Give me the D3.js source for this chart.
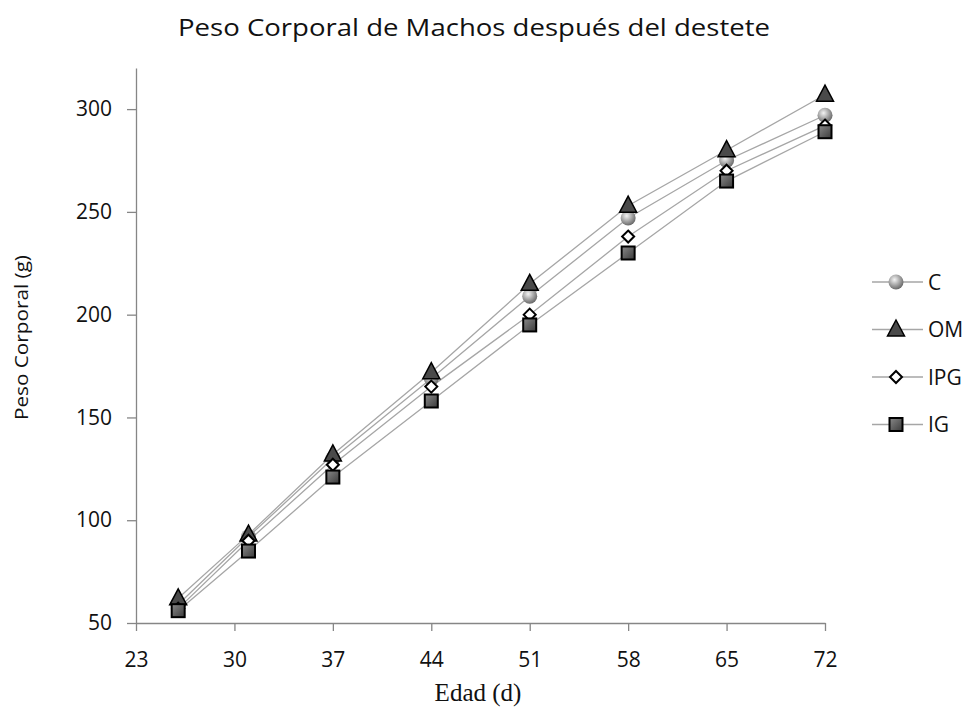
<!DOCTYPE html>
<html>
<head>
<meta charset="utf-8">
<script src="https://cdn.jsdelivr.net/npm/d3@7"></script>
<style>
  body { margin: 0; background: #fff; }
  svg { display: block; }
</style>
</head>
<body>
<div id="chart"></div>
<script>
// ages (days) and body weight (g) per group
const edad = [26, 31, 37, 44, 51, 58, 65, 72];
const serieC   = [59, 92, 130, 169, 209, 247, 275, 297];
const serieOM  = [62, 93, 132, 172, 215, 253, 280, 307];
const serieIPG = [57, 90, 127, 165, 200, 238, 270, 292];
const serieIG  = [56, 85, 121, 158, 195, 230, 265, 289];
const xTicks = [23, 30, 37, 44, 51, 58, 65, 72];
const yTicks = [50, 100, 150, 200, 250, 300];
const nombres = ['C', 'OM', 'IPG', 'IG'];

const series = [
  { name: 'C', values: serieC, marker: 'circle' },
  { name: 'OM', values: serieOM, marker: 'triangle' },
  { name: 'IPG', values: serieIPG, marker: 'diamond' },
  { name: 'IG', values: serieIG, marker: 'square' }
];

const width = 969, height = 710;
const margin = { top: 68, right: 144, bottom: 87, left: 136 };
const font = 'Open Sans, sans-serif';

const svg = d3.select('#chart').append('svg')
  .attr('width', width)
  .attr('height', height);

const defs = svg.append('defs');
const ball = defs.append('radialGradient').attr('id', 'ball')
  .attr('cx', '40%').attr('cy', '35%').attr('r', '65%');
ball.append('stop').attr('offset', '0%').attr('stop-color', '#f4f4f4');
ball.append('stop').attr('offset', '60%').attr('stop-color', '#a0a0a0');
ball.append('stop').attr('offset', '100%').attr('stop-color', '#6a6a6a');

const sq = defs.append('linearGradient').attr('id', 'sq')
  .attr('x1', '0%').attr('y1', '0%').attr('x2', '100%').attr('y2', '100%');
sq.append('stop').attr('offset', '0%').attr('stop-color', '#8a8a8a');
sq.append('stop').attr('offset', '100%').attr('stop-color', '#3a3a3a');

const x = d3.scaleLinear()
  .domain([23, 72])
  .range([margin.left, width - margin.right]);

const y = d3.scaleLinear()
  .domain([50, 320])
  .range([height - margin.bottom, margin.top]);

// title
svg.append('text')
  .attr('x', 178).attr('y', 36)
  .attr('textLength', 592)
  .attr('lengthAdjust', 'spacingAndGlyphs')
  .style('font-family', font)
  .style('font-size', '24px')
  .attr('fill', '#111')
  .text('Peso Corporal de Machos después del destete');

// axes
const axisColor = '#868686';
const xAxis = svg.append('g')
  .attr('transform', `translate(0,${y(50)})`)
  .call(d3.axisBottom(x).tickValues(xTicks).tickSize(8).tickSizeOuter(0).tickPadding(21));
const yAxis = svg.append('g')
  .attr('transform', `translate(${x(23)},0)`)
  .call(d3.axisLeft(y).tickValues(yTicks).tickSize(9).tickSizeOuter(0).tickPadding(15));

[xAxis, yAxis].forEach(a => {
  a.select('.domain').attr('stroke', axisColor).attr('stroke-width', 1.3);
  a.selectAll('.tick line').attr('stroke', axisColor).attr('stroke-width', 1.3);
  a.selectAll('.tick text')
    .attr('fill', '#111')
    .style('font-family', font)
    .style('font-size', '21px');
});

// axis titles
svg.append('text')
  .attr('x', 478).attr('y', 701)
  .attr('text-anchor', 'middle')
  .style('font-family', 'Liberation Serif, serif')
  .style('font-size', '25px')
  .attr('fill', '#111')
  .text('Edad (d)');

svg.append('text')
  .attr('transform', 'translate(28,420) rotate(-90)')
  .attr('textLength', 165)
  .attr('lengthAdjust', 'spacingAndGlyphs')
  .style('font-family', font)
  .style('font-size', '19px')
  .attr('fill', '#111')
  .text('Peso Corporal (g)');

// markers
function drawMarker(g, type) {
  if (type === 'circle') {
    g.append('circle').attr('r', 7.5).attr('fill', 'url(#ball)');
  } else if (type === 'triangle') {
    g.append('path').attr('d', 'M0,-9.5L8.5,6.5L-8.5,6.5Z')
      .attr('fill', '#4a4a4a').attr('stroke', '#000').attr('stroke-width', 1.5);
  } else if (type === 'diamond') {
    g.append('path').attr('d', 'M0,-6L6,0L0,6L-6,0Z')
      .attr('fill', '#fff').attr('stroke', '#000').attr('stroke-width', 2);
  } else {
    g.append('rect').attr('x', -6.5).attr('y', -6.5).attr('width', 13).attr('height', 13)
      .attr('fill', 'url(#sq)').attr('stroke', '#000').attr('stroke-width', 2);
  }
}

const line = d3.line()
  .x((d, i) => x(edad[i]))
  .y(d => y(d));

// lines first, then markers in series order
series.forEach(s => {
  svg.append('path')
    .datum(s.values)
    .attr('fill', 'none')
    .attr('stroke', '#a6a6a6')
    .attr('stroke-width', 1.3)
    .attr('d', line);
});
series.forEach(s => {
  s.values.forEach((v, i) => {
    const g = svg.append('g').attr('transform', `translate(${x(edad[i])},${y(v)})`);
    drawMarker(g, s.marker);
  });
});

// legend
const legend = svg.append('g').attr('transform', 'translate(872,282)');
series.forEach((s, i) => {
  const row = legend.append('g').attr('transform', `translate(0,${i * 47.5})`);
  row.append('line').attr('x1', 0).attr('x2', 51).attr('y1', 0).attr('y2', 0)
    .attr('stroke', '#a6a6a6').attr('stroke-width', 1.3);
  drawMarker(row.append('g').attr('transform', 'translate(24,0)'), s.marker);
  row.append('text')
    .attr('x', 56).attr('y', 0).attr('dy', '0.36em')
    .style('font-family', font)
    .style('font-size', '21px')
    .attr('fill', '#111')
    .text(nombres[i]);
});
</script>
</body>
</html>
